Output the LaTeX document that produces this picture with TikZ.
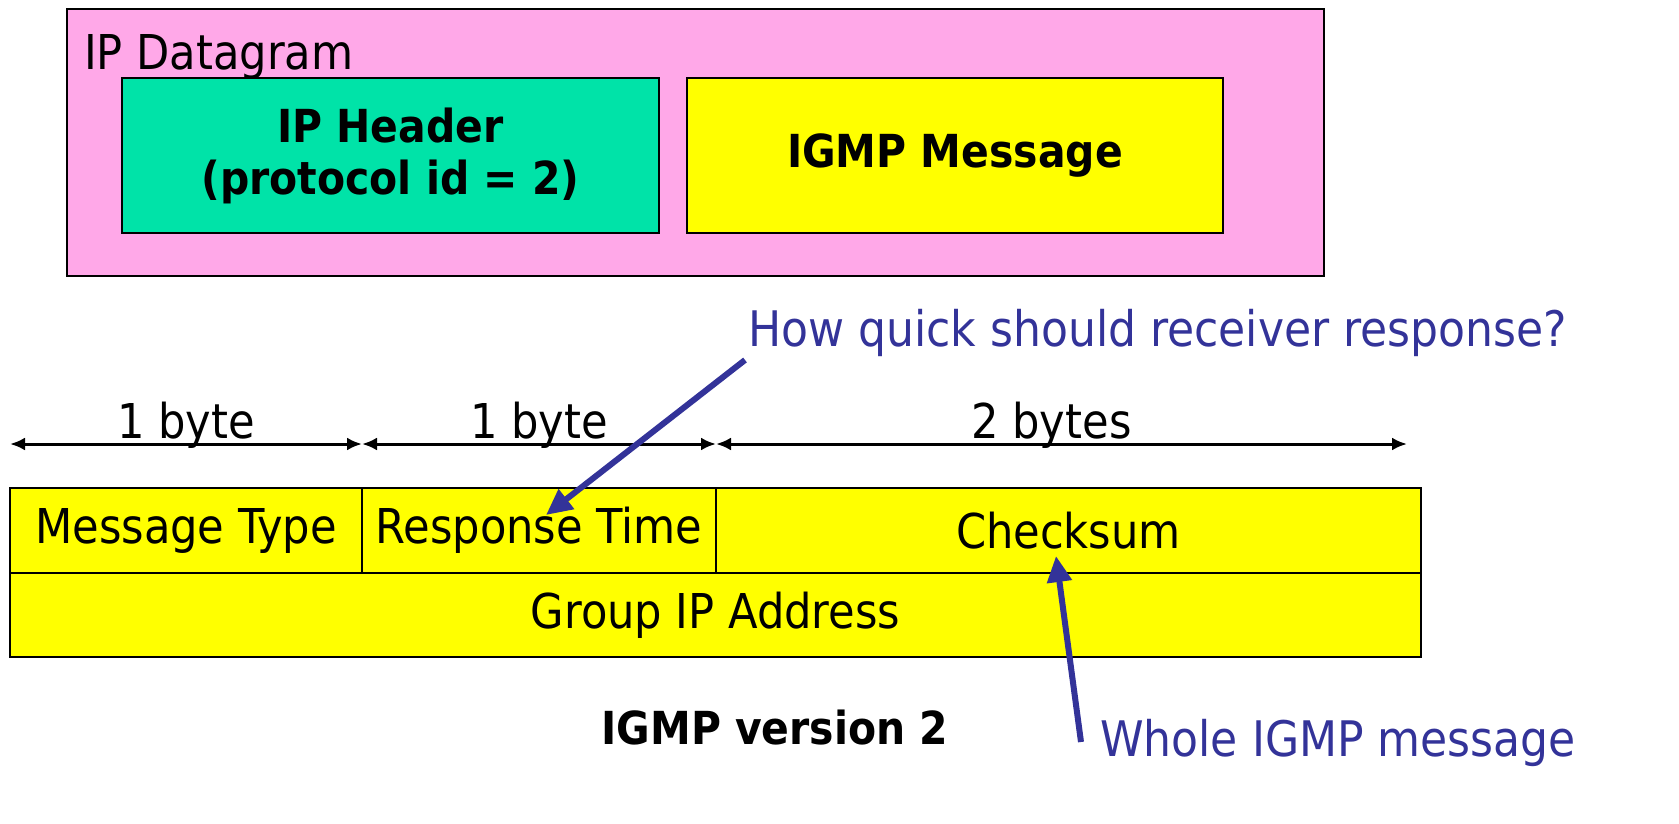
\documentclass[tikz,border=0pt]{standalone}
\usepackage{fontspec}
\setmainfont{DejaVu Sans Condensed}
\usepackage{tikz}
\usetikzlibrary{positioning, arrows.meta, calc}
\usepackage{xcolor}

\definecolor{dgrampink}{HTML}{FFA8E8}
\definecolor{hdrgreen}{HTML}{00E3A8}
\definecolor{fieldyellow}{HTML}{FFFF00}
\definecolor{noteblue}{HTML}{333399}

\begin{document}
\begin{tikzpicture}[
    x=1pt, y=-1pt,
    every node/.style={font=\fontsize{48}{56}\selectfont},
    boldtext/.style={font=\fontsize{45.5}{52}\selectfont\bfseries},
    box/.style={draw=black, line width=2pt, inner sep=0pt},
    field/.style={box, fill=fieldyellow, minimum height=85pt},
    sizelbl/.style={anchor=base, inner sep=0pt, yshift=6pt},
    sizearrow/.style={{Latex[length=15pt,width=13pt]}-{Latex[length=15pt,width=13pt]}, line width=3pt},
    notearrow/.style={-{Triangle[length=26pt,width=24pt]}, line width=6pt, draw=noteblue},
    note/.style={text=noteblue, inner sep=0pt, font=\fontsize{49}{56}\selectfont}
]
    \useasboundingbox (0,0) rectangle (1679,824);

    % IP datagram with header and payload
    \node[box, fill=dgrampink, minimum width=1257pt, minimum height=267pt, anchor=north west] (dgram) at (66,8) {};
    \node[anchor=base west, inner sep=0pt] (dgramlbl) at (84,70) {IP Datagram};
    \node[box, boldtext, fill=hdrgreen, minimum width=537pt, minimum height=155pt, align=center] (iphdr) at (390.5,155.5) {IP Header\\(protocol id = 2)};
    \node[box, boldtext, fill=fieldyellow, minimum width=536pt, minimum height=155pt] (igmpmsg) at (955,155.5) {IGMP Message};

    % IGMP v2 message fields
    \node[field, minimum width=352pt] (msgtype) at (186,530.5) {Message Type};
    \node[field, minimum width=354pt] (resptime) at (539,530.5) {Response Time};
    \node[field, minimum width=705pt] (checksum) at (1068.5,530.5) {Checksum};
    \node[field, minimum width=1411pt, minimum height=84pt] (groupaddr) at (715.5,615) {Group IP Address};

    % Field sizes
    \coordinate (s0) at (10,444);
    \coordinate (s1) at (362,444);
    \coordinate (s2) at (716,444);
    \coordinate (s3) at (1407,444);
    \draw[sizearrow] (s0) -- node[sizelbl] {1 byte} (s1);
    \draw[sizearrow] (s1) -- node[sizelbl] {1 byte} (s2);
    \draw[sizearrow] (s2) -- node[sizelbl, xshift=-10pt] {2 bytes} (s3);

    \node[boldtext] (caption) at (775,728) {IGMP version 2};

    % Notes
    \node[note, anchor=west] (quicknote) at (748,333) {How quick should receiver response?};
    \node[note, anchor=west] (wholenote) at (1100,743) {Whole IGMP message};
    \coordinate (quickend) at (745,360);
    \coordinate (wholeend) at (1081,742);
    \coordinate (resptip) at (546,515);
    \coordinate (checktip) at (1056,556);
    \draw[notearrow] (quickend) -- (resptip);
    \draw[notearrow] (wholeend) -- (checktip);
\end{tikzpicture}
\end{document}
